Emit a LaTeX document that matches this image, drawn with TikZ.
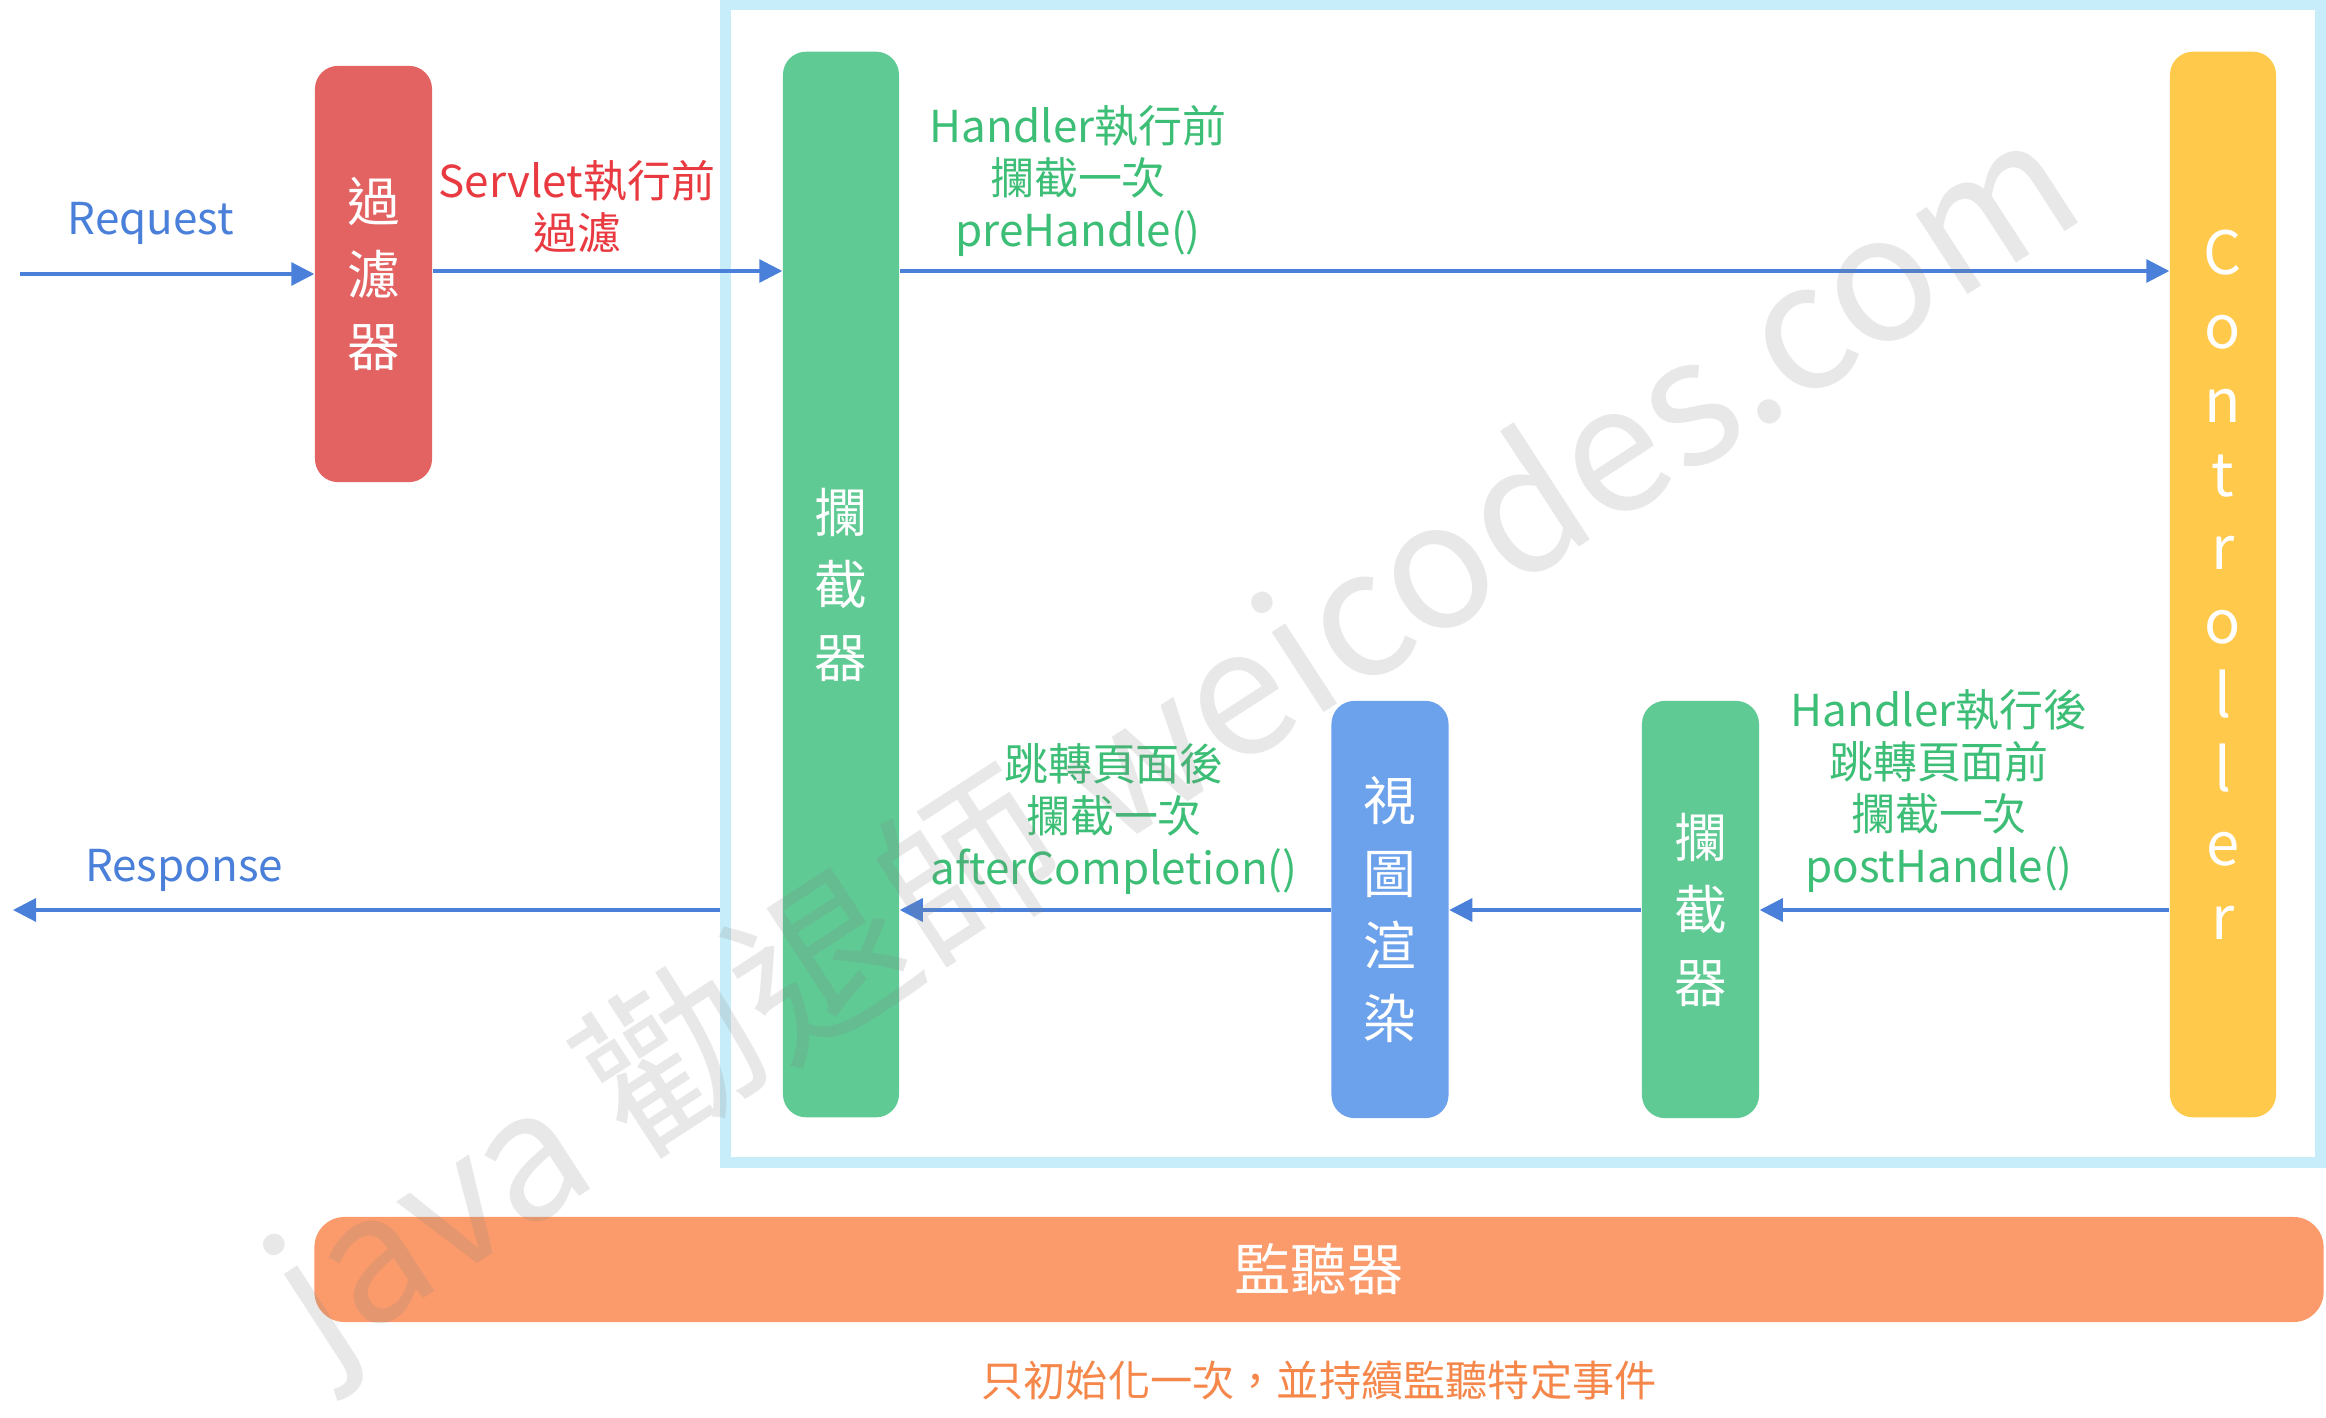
\documentclass[tikz,border=0pt]{standalone}
\usepackage{fontspec}
\setmainfont{Noto Sans CJK TC}
\usepackage{tikz}
\usetikzlibrary{arrows.meta}
\definecolor{filterred}{RGB}{227, 98, 98}
\definecolor{intergreen}{RGB}{95, 202, 148}
\definecolor{ctrlyellow}{RGB}{255, 201, 75}
\definecolor{viewblue}{RGB}{108, 161, 235}
\definecolor{listenorange}{RGB}{251, 155, 108}
\definecolor{framecyan}{RGB}{200, 237, 250}
\definecolor{flowblue}{RGB}{74, 128, 217}
\definecolor{labelred}{RGB}{232, 58, 64}
\definecolor{labelgreen}{RGB}{61, 190, 118}
\definecolor{noteorange}{RGB}{245, 135, 75}
\tikzstyle{stage} = [rounded corners=0.23cm, text=white, align=center, inner sep=0pt, minimum width=1.17cm, font=\fontsize{15}{20.6}\selectfont]
\tikzstyle{arrow} = [-{Triangle[length=2.3mm, width=2.3mm]}, line width=0.9pt, flowblue]
\tikzstyle{note} = [align=center, inner sep=0pt, font=\fontsize{12.5}{14.8}\selectfont]

\begin{document}
\begin{tikzpicture}[x=0.01cm, y=-0.01cm]
    \useasboundingbox (0,0) rectangle (2326,1418);
    \coordinate (toprow) at (0,271);
    \coordinate (botrow) at (0,910);

    % Spring MVC area
    \node[draw=framecyan, line width=3.1pt, inner sep=0pt, minimum width=15.94cm, minimum height=11.57cm] (frame) at (1523,583.5) {};

    % Boxes
    \node[stage, fill=filterred, minimum height=4.16cm] (filter) at (373.5,274) {過\\濾\\器};
    \node[stage, fill=intergreen, minimum width=1.16cm, minimum height=10.65cm] (inter) at (841,584.5) {攔\\截\\器};
    \node[stage, fill=viewblue, minimum height=4.17cm] (view) at (1390,909.5) {視\\圖\\渲\\染};
    \node[stage, fill=intergreen, minimum height=4.17cm] (inter2) at (1700.5,909.5) {攔\\截\\器};
    \node[stage, fill=ctrlyellow, minimum width=1.06cm, minimum height=10.65cm, font=\fontsize{17}{21}\selectfont] (ctrl) at (2223,584.5) {C\\o\\n\\t\\r\\o\\l\\l\\e\\r};

    % Listener
    \node[fill=listenorange, rounded corners=0.3cm, text=white, minimum width=20.08cm, minimum height=1.05cm, font=\fontsize{16}{19}\selectfont] (listener) at (1319,1269.5) {監聽器};
    \node[note, text=noteorange, font=\fontsize{12}{14}\selectfont] (listennote) at (1319,1380) {只初始化一次，並持續監聽特定事件};

    % Request path
    \coordinate (reqstart) at (20,274);
    \draw[arrow] (reqstart) -- (filter.west);
    \node[note, text=flowblue] (reqlabel) at (151,223) {Request};
    \draw[arrow] (filter.east |- toprow) -- (inter.west |- toprow);
    \node[note, text=labelred] (servletlabel) at (577,207) {Servlet執行前\\過濾};
    \draw[arrow] (inter.east |- toprow) -- (ctrl.west |- toprow);
    \node[note, text=labelgreen] (prelabel) at (1078,181) {Handler執行前\\攔截一次\\preHandle()};

    % Response path
    \draw[arrow] (ctrl.west |- botrow) -- (inter2.east |- botrow);
    \node[note, text=labelgreen] (postlabel) at (1939,791) {Handler執行後\\跳轉頁面前\\攔截一次\\postHandle()};
    \draw[arrow] (inter2.west |- botrow) -- (view.east |- botrow);
    \draw[arrow] (view.west |- botrow) -- (inter.east |- botrow);
    \node[note, text=labelgreen] (afterlabel) at (1114,819) {跳轉頁面後\\攔截一次\\afterCompletion()};
    \coordinate (respend) at (13,910);
    \draw[arrow] (frame.west |- botrow) -- (respend);
    \node[note, text=flowblue] (resplabel) at (184,870) {Response};

    % Watermark
    \node[text=gray, text opacity=0.18, rotate=33, font=\fontsize{50}{50}\selectfont] (watermark) at (1178,745) {java 勸退師 weicodes.com};
\end{tikzpicture}
\end{document}
